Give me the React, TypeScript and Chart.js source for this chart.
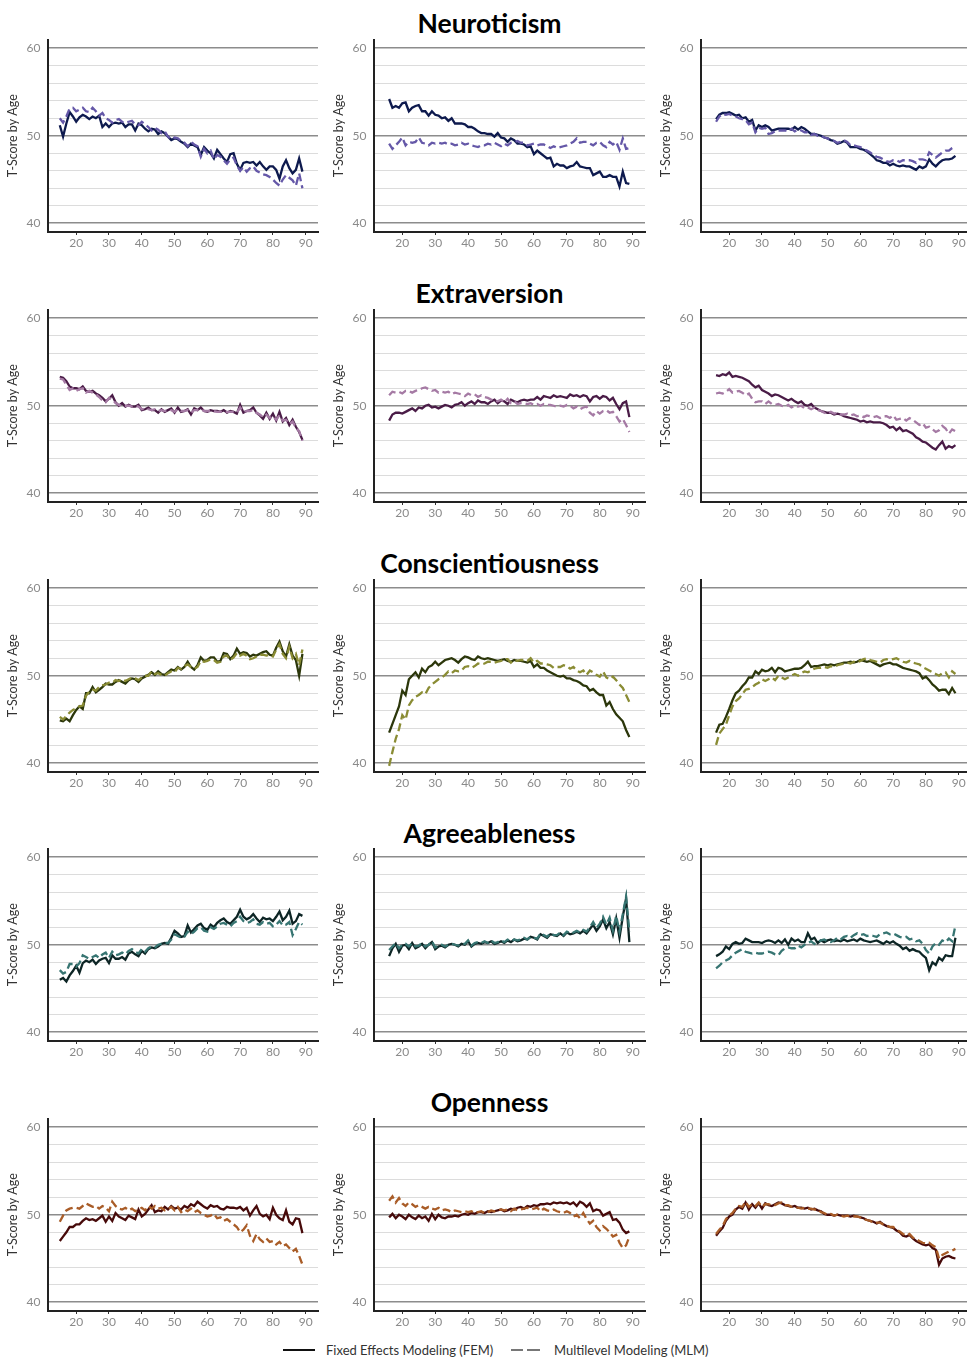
import React, { useEffect, useRef } from "react";
import { Chart, registerables } from "chart.js";

Chart.register(...registerables);
Chart.defaults.font.family = "Lato, 'DejaVu Sans', sans-serif";

// ---------- categories / ticks ----------
const agesFrom15 = [
  15, 16, 17, 18, 19,
  20, 21, 22, 23, 24, 25, 26, 27, 28, 29,
  30, 31, 32, 33, 34, 35, 36, 37, 38, 39,
  40, 41, 42, 43, 44, 45, 46, 47, 48, 49,
  50, 51, 52, 53, 54, 55, 56, 57, 58, 59,
  60, 61, 62, 63, 64, 65, 66, 67, 68, 69,
  70, 71, 72, 73, 74, 75, 76, 77, 78, 79,
  80, 81, 82, 83, 84, 85, 86, 87, 88, 89,
];
const agesFrom16 = [
  16, 17, 18, 19,
  20, 21, 22, 23, 24, 25, 26, 27, 28, 29,
  30, 31, 32, 33, 34, 35, 36, 37, 38, 39,
  40, 41, 42, 43, 44, 45, 46, 47, 48, 49,
  50, 51, 52, 53, 54, 55, 56, 57, 58, 59,
  60, 61, 62, 63, 64, 65, 66, 67, 68, 69,
  70, 71, 72, 73, 74, 75, 76, 77, 78, 79,
  80, 81, 82, 83, 84, 85, 86, 87, 88, 89,
];
const xTickValues = [20, 30, 40, 50, 60, 70, 80, 90];
const yGridValues = [40, 42, 44, 46, 48, 50, 52, 54, 56, 58, 60];
const yLabelValues = [40, 50, 60];
const traitTitles = ["Neuroticism", "Extraversion", "Conscientiousness", "Agreeableness", "Openness"];
const seriesLabels = ["Fixed Effects Modeling (FEM)", "Multilevel Modeling (MLM)"];
const yAxisTitle = "T-Score by Age";

// ---------- Neuroticism ----------
const neuFem1 = [
  51.2, 49.9, 51.4, 52.7, 52.2,
  51.6, 52.1, 52.4, 52.2, 51.9, 52.2, 52.0, 52.3, 51.0, 51.4,
  51.0, 51.4, 51.5, 51.4, 51.5, 51.0, 51.3, 51.3, 50.6, 51.4,
  51.2, 50.8, 50.5, 50.8, 50.7, 50.2, 50.5, 50.3, 49.9, 49.5,
  49.7, 49.6, 49.3, 49.1, 48.7, 49.1, 48.9, 48.7, 47.8, 48.7,
  48.3, 48.0, 47.4, 48.4, 47.9, 47.4, 47.0, 47.9, 48.0, 46.8,
  46.1, 46.9, 47.0, 46.9, 47.0, 46.6, 47.0, 46.5, 46.1, 46.5,
  46.5, 46.1, 45.1, 46.5, 47.2, 46.3, 45.7, 46.1, 47.4, 45.9,
];
const neuMlm1 = [
  52.0, 51.5, 52.2, 53.1, 53.2,
  52.8, 53.0, 53.2, 52.8, 52.7, 53.2, 52.8, 52.3, 52.6, 52.0,
  51.8, 51.5, 51.8, 51.9, 51.6, 51.5, 51.6, 51.7, 51.3, 51.2,
  51.6, 51.3, 51.0, 50.6, 50.9, 50.7, 50.3, 50.5, 49.9, 49.6,
  49.8, 49.7, 49.4, 49.2, 48.8, 49.3, 49.0, 48.8, 47.6, 48.5,
  48.0, 48.3, 47.3, 47.8, 47.6, 47.2, 46.8, 47.3, 47.5, 46.6,
  46.0, 46.4, 45.9, 46.3, 46.5, 46.0, 45.8, 45.6, 45.5, 45.3,
  45.0, 44.6, 44.3, 45.0, 45.5, 45.2, 44.9, 44.3, 45.7, 44.0,
];
const neuFem2 = [
  54.2, 53.2, 53.4, 53.2,
  53.7, 53.8, 52.8, 53.2, 53.4, 53.5, 52.8, 52.8, 52.3, 52.8,
  52.4, 52.3, 52.0, 52.1, 51.7, 52.0, 51.4, 51.4, 51.4, 51.3,
  51.0, 51.0, 50.8, 50.5, 50.3, 50.3, 50.2, 50.2, 49.9, 50.3,
  49.8, 49.7, 49.3, 49.7, 49.5, 49.1, 49.1, 49.0, 48.7, 48.8,
  47.9, 48.3, 48.0, 47.7, 47.4, 47.5, 46.5, 46.8, 46.6, 46.6,
  46.3, 46.5, 46.6, 47.0, 46.5, 46.4, 46.3, 46.3, 45.5, 45.7,
  45.9, 45.3, 45.3, 45.5, 45.3, 45.3, 44.2, 45.9, 44.6, 44.5,
];
const neuMlm2 = [
  49.1, 48.5, 48.9, 49.3,
  49.8, 48.9, 49.3, 49.2, 49.3, 49.8, 49.2, 49.1, 48.9, 49.2,
  49.1, 49.2, 49.1, 49.2, 49.0, 49.1, 48.9, 49.0, 49.2, 49.0,
  49.1, 48.9, 48.8, 48.7, 48.9, 48.9, 49.1, 49.0, 49.2, 49.0,
  48.8, 49.1, 48.9, 49.2, 49.3, 49.4, 49.2, 49.2, 48.9, 49.0,
  49.1, 48.9, 49.0, 49.0, 48.8, 48.6, 48.8, 48.6, 48.7, 48.8,
  48.9, 49.1, 49.3, 49.7, 49.2, 49.3, 49.3, 49.1, 48.9, 49.2,
  49.3, 48.9, 48.7, 49.3, 49.0, 49.3, 48.4, 49.7, 48.5, 48.6,
];
const neuFem3 = [
  51.9, 52.4, 52.6, 52.6,
  52.7, 52.5, 52.3, 52.4, 52.0, 52.1, 51.6, 51.8, 50.6, 51.2,
  51.0, 51.2, 51.0, 50.6, 50.7, 50.8, 50.8, 50.8, 50.8, 50.7,
  51.0, 50.7, 51.0, 50.8, 50.5, 50.2, 50.2, 50.1, 50.0, 49.8,
  49.7, 49.5, 49.4, 49.1, 49.2, 49.4, 49.2, 48.7, 48.7, 48.7,
  48.5, 48.4, 48.2, 47.9, 47.6, 47.2, 47.1, 46.9, 46.9, 46.6,
  46.8, 46.6, 46.5, 46.6, 46.5, 46.5, 46.3, 46.1, 46.5, 46.3,
  46.5, 47.3, 46.8, 46.5, 46.9, 47.2, 47.3, 47.3, 47.4, 47.7,
];
const neuMlm3 = [
  51.6, 52.2, 52.5, 52.4,
  52.5, 52.3, 52.2, 52.0, 51.9, 51.8, 51.3, 51.5, 50.4, 50.9,
  50.8, 50.9, 50.2, 50.3, 50.5, 50.6, 50.6, 50.6, 50.5, 50.8,
  50.5, 50.7, 50.6, 50.4, 50.4, 50.1, 50.2, 50.0, 50.0, 49.8,
  49.7, 49.5, 49.4, 49.2, 49.3, 49.5, 49.3, 48.9, 48.9, 48.8,
  48.7, 48.5, 48.3, 48.1, 47.8, 47.6, 47.5, 47.3, 47.1, 47.0,
  47.2, 47.2, 47.0, 47.2, 47.2, 47.2, 47.1, 46.9, 47.3, 47.3,
  47.2, 48.1, 47.8, 47.5, 47.8, 48.1, 48.3, 48.3, 48.6, 48.8,
];

// ---------- Extraversion ----------
const extFem1 = [
  53.3, 53.2, 52.8, 52.2, 52.0,
  52.0, 51.9, 52.2, 51.7, 51.6, 51.7, 51.4, 51.2, 50.9, 50.5,
  50.8, 51.2, 50.4, 50.0, 50.3, 49.9, 50.1, 49.9, 49.9, 50.1,
  49.5, 49.6, 49.8, 49.5, 49.5, 49.2, 49.6, 49.3, 49.5, 49.7,
  49.2, 49.8, 49.3, 49.4, 49.6, 49.0, 49.7, 49.5, 49.8, 49.4,
  49.3, 49.5, 49.4, 49.4, 49.3, 49.5, 49.2, 49.4, 49.3, 49.1,
  50.1, 49.2, 49.4, 49.5, 49.8, 49.2, 48.9, 48.5, 49.2, 48.5,
  49.1, 48.3, 49.3, 48.2, 48.6, 47.8, 48.4, 47.6, 47.0, 46.1,
];
const extMlm1 = [
  53.1, 53.0, 52.4, 51.8, 52.0,
  51.7, 51.9, 52.0, 51.5, 51.7, 51.5, 51.3, 51.0, 50.6, 50.4,
  50.9, 50.7, 50.3, 50.1, 50.0, 50.0, 50.0, 49.9, 50.0, 49.9,
  49.6, 49.7, 49.6, 49.5, 49.6, 49.4, 49.5, 49.4, 49.5, 49.5,
  49.3, 49.6, 49.4, 49.4, 49.5, 49.2, 49.5, 49.5, 49.6, 49.4,
  49.4, 49.4, 49.4, 49.3, 49.3, 49.4, 49.3, 49.3, 49.3, 49.2,
  49.8, 49.3, 49.4, 49.4, 49.5, 49.2, 49.0, 48.7, 49.0, 48.6,
  48.8, 48.4, 48.9, 48.3, 48.4, 47.9, 48.2, 47.5, 47.1, 46.0,
];
const extFem2 = [
  48.3, 49.0, 49.2, 49.2,
  49.1, 49.3, 49.5, 49.7, 49.4, 49.8, 49.7, 50.0, 50.1, 49.8,
  49.9, 49.7, 49.9, 50.1, 50.0, 49.8, 50.1, 50.2, 50.4, 50.0,
  50.3, 50.5, 50.2, 50.6, 50.4, 50.4, 50.2, 50.5, 50.7, 50.3,
  50.6, 50.5, 50.2, 50.7, 50.5, 50.4, 50.6, 50.7, 50.6, 50.7,
  50.7, 51.0, 50.7, 51.1, 51.0, 50.9, 51.2, 51.0, 51.1, 51.0,
  50.9, 51.3, 51.1, 51.2, 51.0, 51.2, 51.1, 50.5, 51.0, 51.1,
  50.8, 51.1, 51.0, 50.6, 50.9, 50.2, 49.6, 50.3, 50.5, 48.7,
];
const extMlm2 = [
  51.2, 51.6, 51.5, 51.6,
  51.4, 51.7, 51.7, 51.5, 51.7, 51.8, 52.0, 52.1, 51.9, 51.7,
  51.8, 51.5, 51.6, 51.5, 51.6, 51.3, 51.5, 51.4, 51.3, 51.1,
  51.4, 51.2, 51.3, 51.0, 51.2, 51.0, 50.9, 50.7, 50.6, 50.5,
  50.7, 50.4, 50.8, 50.3, 50.5, 50.2, 50.3, 50.3, 50.2, 50.3,
  50.1, 50.2, 50.0, 50.2, 50.1, 50.1, 50.0, 49.9, 50.0, 49.9,
  50.1, 50.0, 49.7, 49.9, 49.6, 49.8, 49.9, 49.2, 48.9, 49.4,
  49.1, 49.4, 49.5, 49.2, 49.3, 48.8, 48.2, 48.5, 47.8, 47.0,
];
const extFem3 = [
  53.5, 53.4, 53.6, 53.5,
  53.8, 53.3, 53.4, 53.3, 53.2, 53.0, 52.8, 52.4, 52.1, 52.3,
  51.8, 51.6, 51.4, 51.1, 51.3, 51.2, 51.0, 50.8, 50.6, 50.8,
  50.5, 50.3, 50.5, 50.1, 50.0, 50.2, 49.8, 49.6, 49.4, 49.3,
  49.2, 49.2, 49.0, 49.1, 49.0, 48.8, 48.7, 48.6, 48.5, 48.4,
  48.2, 48.3, 48.1, 48.2, 48.1, 48.1, 48.1, 48.0, 47.8, 47.5,
  47.6, 47.2, 47.5, 47.1, 47.2, 47.0, 46.8, 46.4, 46.2, 45.9,
  45.8, 45.5, 45.2, 45.0, 45.5, 45.9, 45.1, 45.4, 45.2, 45.5,
];
const extMlm3 = [
  51.4, 51.5, 51.4, 51.6,
  51.9, 51.5, 51.6, 51.7, 51.5, 51.2, 51.4, 50.8, 50.4, 50.5,
  50.5, 50.2, 50.5, 50.2, 50.1, 50.2, 50.0, 49.9, 50.1, 49.8,
  50.0, 49.9, 50.0, 49.7, 49.8, 49.6, 49.8, 49.5, 49.4, 49.2,
  49.1, 49.3, 49.1, 49.2, 49.0, 49.0, 49.1, 48.9, 49.0, 48.8,
  48.9, 48.7, 48.9, 48.8, 48.7, 48.8, 48.6, 48.8, 48.8, 48.6,
  48.9, 48.4, 48.5, 48.6, 48.3, 48.6, 48.4, 48.1, 47.8, 48.0,
  47.5, 47.6, 47.3, 47.0, 47.2, 47.7, 47.4, 46.8, 47.3, 47.1,
];

// ---------- Conscientiousness ----------
const conFem1 = [
  44.9, 44.8, 45.1, 44.8, 45.5,
  46.1, 46.5, 46.2, 48.0, 48.0, 48.7, 48.1, 48.4, 48.7, 49.1,
  49.0, 49.0, 49.3, 49.5, 49.3, 49.1, 49.5, 49.7, 49.6, 49.3,
  49.7, 49.9, 50.1, 50.4, 50.1, 50.5, 50.2, 50.1, 50.4, 50.7,
  50.6, 51.0, 50.7, 51.0, 51.6, 51.0, 50.7, 51.2, 52.1, 51.7,
  51.8, 52.1, 52.1, 51.6, 51.7, 52.6, 52.5, 51.9, 52.3, 53.1,
  52.5, 52.7, 52.6, 52.2, 52.4, 52.3, 52.5, 52.7, 52.8, 52.4,
  52.3, 53.2, 53.9, 52.8, 52.2, 53.6, 52.3, 51.8, 50.0, 52.5,
];
const conMlm1 = [
  45.3, 45.0, 45.4, 45.8, 46.1,
  46.3, 46.5, 46.6, 47.7, 48.2, 48.4, 48.3, 48.7, 48.9, 49.0,
  49.2, 49.2, 49.5, 49.4, 49.6, 49.4, 49.6, 49.8, 49.7, 49.5,
  49.8, 50.0, 50.0, 50.5, 50.2, 50.3, 50.1, 50.0, 50.3, 50.5,
  50.4, 50.9, 50.8, 51.1, 51.3, 51.0, 50.8, 51.0, 51.7, 51.6,
  51.7, 51.9, 51.8, 51.5, 51.6, 52.2, 52.3, 51.8, 52.1, 52.6,
  52.3, 52.5, 52.3, 51.9, 52.0, 52.2, 52.4, 52.4, 52.3, 52.4,
  52.2, 53.0, 53.6, 52.5, 52.0, 53.3, 52.0, 52.5, 51.2, 53.0,
];
const conFem2 = [
  43.5, 44.5, 45.5, 46.5,
  48.3, 47.8, 49.6, 50.0, 50.4, 49.8, 50.8, 50.4, 51.0, 51.2,
  51.6, 51.2, 51.5, 51.8, 51.9, 52.0, 51.8, 51.5, 51.9, 52.2,
  52.1, 51.9, 51.8, 52.2, 52.0, 51.9, 52.0, 51.9, 51.8, 51.7,
  51.8, 51.9, 51.7, 51.6, 51.8, 51.7, 51.7, 51.6, 51.5, 51.7,
  51.0, 51.3, 50.9, 50.9, 50.6, 50.4, 50.2, 50.0, 49.9, 50.0,
  49.7, 49.7, 49.5, 49.4, 49.2, 48.9, 48.8, 48.3, 48.5, 48.1,
  47.8, 47.8, 46.6, 47.0, 46.2, 45.6, 45.2, 44.8, 43.8, 43.0,
];
const conMlm2 = [
  39.7, 41.3, 42.8, 43.9,
  45.5, 45.0, 46.6, 47.2, 47.6, 47.8, 48.1, 47.9, 48.6, 49.0,
  49.3, 49.6, 49.8, 50.1, 50.5, 50.3, 50.6, 50.5, 50.6, 51.0,
  51.1, 50.9, 51.1, 51.4, 51.3, 51.4, 51.6, 51.6, 51.5, 51.6,
  51.7, 51.9, 51.9, 51.5, 51.8, 51.7, 51.8, 51.8, 51.7, 52.0,
  51.5, 51.7, 51.4, 51.4, 51.3, 51.2, 50.9, 51.0, 51.0, 51.2,
  51.1, 50.8, 51.0, 50.6, 50.4, 50.6, 50.1, 50.6, 50.4, 50.1,
  49.9, 50.5, 49.8, 49.6, 49.9, 49.5, 49.0, 48.6, 47.8, 47.0,
];
const conFem3 = [
  43.5, 44.4, 44.5, 45.3,
  46.2, 47.2, 48.0, 48.3, 48.8, 49.2, 49.8, 49.8, 50.5, 50.2,
  50.7, 50.5, 50.6, 50.9, 50.4, 50.9, 50.8, 50.5, 50.6, 50.7,
  50.8, 50.8, 50.9, 51.2, 51.6, 51.0, 51.1, 51.1, 51.2, 51.3,
  51.2, 51.3, 51.2, 51.3, 51.4, 51.5, 51.5, 51.6, 51.5, 51.6,
  51.8, 51.7, 51.6, 51.7, 51.5, 51.3, 51.1, 51.3, 51.4, 51.5,
  51.3, 51.3, 51.1, 50.9, 50.8, 50.7, 50.6, 50.5, 50.3, 49.7,
  49.9, 49.5, 49.0, 48.7, 48.3, 48.4, 48.4, 47.9, 48.6, 48.0,
];
const conMlm3 = [
  42.1, 43.4, 43.9, 44.4,
  45.5, 46.5, 47.1, 47.4, 47.9, 48.4, 48.5, 48.7, 49.0, 49.2,
  49.6, 49.4, 49.6, 49.8, 49.5, 50.0, 49.8, 49.6, 49.8, 50.0,
  50.2, 50.0, 50.3, 50.5, 50.4, 50.6, 50.8, 50.9, 50.9, 51.0,
  50.9, 51.1, 51.0, 51.2, 51.3, 51.4, 51.5, 51.4, 51.6, 51.5,
  51.7, 51.9, 52.0, 51.8, 51.7, 51.6, 51.5, 51.8, 51.9, 51.8,
  51.9, 52.0, 51.8, 51.6, 51.5, 51.7, 51.5, 51.4, 51.3, 51.0,
  50.8, 50.6, 50.4, 50.2, 50.0, 50.3, 50.4, 49.8, 50.5, 50.2,
];

// ---------- Agreeableness ----------
const agrFem1 = [
  46.0, 46.2, 45.8, 46.5, 47.0,
  47.6, 46.8, 47.9, 48.2, 48.0, 48.3, 47.8, 48.2, 48.4, 48.5,
  47.9, 48.8, 48.4, 48.4, 48.6, 48.3, 49.0, 49.2, 48.9, 48.7,
  49.3, 49.0, 49.5, 49.7, 49.6, 49.8, 50.1, 50.2, 50.1, 50.8,
  51.6, 51.3, 50.9, 51.0, 52.2, 51.4, 51.8, 52.2, 52.4, 51.9,
  51.7, 52.3, 52.0, 52.5, 52.8, 53.0, 52.6, 52.4, 52.8, 53.2,
  54.0, 53.2, 52.9, 53.1, 53.5, 53.0, 52.6, 53.1, 52.9, 53.0,
  52.7, 53.2, 53.8, 52.8, 53.2, 53.9, 52.4, 52.7, 53.5, 53.3,
];
const agrMlm1 = [
  47.1, 46.7, 46.9, 47.8, 47.8,
  47.5, 47.9, 48.8, 48.6, 48.4, 48.6, 48.8, 48.5, 48.9, 49.1,
  48.5, 49.2, 48.8, 48.9, 49.1, 48.9, 49.3, 49.5, 49.2, 49.0,
  49.5, 49.2, 49.6, 49.8, 49.7, 50.0, 50.1, 50.2, 50.2, 50.6,
  51.2, 51.0, 50.8, 50.9, 51.5, 51.2, 51.5, 51.9, 52.0, 51.6,
  51.5, 52.0, 51.8, 52.1, 52.4, 52.5, 52.3, 52.1, 52.5, 52.7,
  53.2, 52.7, 52.5, 52.6, 52.9, 52.4, 52.3, 52.6, 52.4, 52.5,
  52.1, 52.3, 52.7, 52.2, 52.3, 52.6, 51.1, 51.8, 52.6, 52.3,
];
const agrFem2 = [
  48.7, 49.6, 50.1, 49.2,
  49.9, 50.0, 49.5, 50.2, 49.6, 49.8, 50.1, 49.6, 50.0, 50.3,
  49.5, 49.8, 49.9, 49.7, 50.0, 50.1, 50.0, 49.8, 50.1, 50.0,
  50.4, 49.8, 50.1, 50.2, 50.1, 50.3, 50.2, 50.4, 50.1, 50.2,
  50.4, 50.2, 50.5, 50.3, 50.6, 50.4, 50.5, 50.7, 50.6, 50.9,
  50.8, 50.6, 51.2, 51.0, 50.8, 51.2, 51.1, 51.0, 51.3, 51.0,
  51.4, 51.2, 51.3, 51.5, 51.3, 51.6, 51.3, 51.8, 52.3, 51.6,
  52.1, 52.9, 51.9, 52.6, 51.2, 53.0, 50.8, 53.2, 55.3, 50.3,
];
const agrMlm2 = [
  49.4, 49.8, 50.2, 49.6,
  50.0, 50.1, 49.8, 50.2, 49.8, 49.9, 50.2, 49.8, 50.0, 50.4,
  49.7, 49.9, 50.0, 49.8, 50.0, 50.1, 50.0, 49.9, 50.1, 50.1,
  50.5, 49.9, 50.2, 50.3, 50.2, 50.4, 50.2, 50.5, 50.2, 50.3,
  50.5, 50.3, 50.6, 50.4, 50.6, 50.5, 50.6, 50.8, 50.6, 50.9,
  50.8, 50.7, 51.3, 51.1, 50.9, 51.3, 51.1, 51.1, 51.4, 51.1,
  51.5, 51.3, 51.4, 51.6, 51.4, 51.7, 51.5, 52.0, 52.6, 51.9,
  52.4, 53.2, 52.3, 53.1, 51.6, 53.3, 51.5, 53.5, 55.5, 51.5,
];
const agrFem3 = [
  48.7, 48.9, 49.2, 49.8,
  49.5, 50.1, 50.3, 50.1, 50.2, 50.7, 50.5, 50.3, 50.3, 50.3,
  50.2, 50.4, 50.5, 50.4, 50.2, 50.5, 50.2, 50.6, 50.0, 50.7,
  50.4, 50.6, 50.3, 50.3, 51.3, 50.6, 50.8, 50.2, 50.5, 50.3,
  50.5, 50.6, 50.4, 50.5, 50.4, 50.6, 50.4, 50.5, 50.6, 50.4,
  50.7, 50.5, 50.4, 50.3, 50.4, 50.5, 50.3, 50.1, 50.4, 50.2,
  50.4, 50.1, 49.9, 49.5, 49.7, 49.3, 49.5, 49.3, 49.2, 48.8,
  48.5, 47.1, 48.0, 47.7, 48.5, 48.2, 48.8, 48.7, 48.7, 50.8,
];
const agrMlm3 = [
  47.3, 47.6, 48.0, 48.2,
  48.4, 48.8, 49.1, 49.3, 49.5, 49.2, 49.1, 49.0, 49.1, 49.0,
  49.0, 49.1, 49.2, 49.1, 48.9, 48.8, 49.3, 49.6, 49.7, 49.6,
  49.6, 49.9, 49.7, 50.0, 50.2, 50.4, 50.1, 50.3, 50.5, 50.6,
  50.4, 50.3, 50.5, 50.8, 50.6, 50.9, 51.0, 50.8, 51.1, 51.3,
  51.1, 51.2, 51.0, 51.1, 51.0, 50.9, 51.2, 51.3, 51.4, 51.2,
  51.3, 51.1, 50.9, 50.8, 50.9, 50.6, 50.7, 50.4, 50.5, 50.1,
  49.4, 49.0, 49.8, 50.2, 50.0, 50.5, 50.3, 50.7, 50.4, 52.2,
];

// ---------- Openness ----------
const opnFem1 = [
  47.0, 47.5, 48.0, 48.6, 48.6,
  48.9, 48.9, 49.3, 49.6, 49.4, 49.5, 49.3, 49.6, 49.9, 49.2,
  49.8, 49.3, 50.2, 49.8, 49.6, 49.4, 49.9, 49.7, 49.5, 50.6,
  49.8, 50.1, 50.6, 51.1, 50.3, 50.5, 50.4, 50.9, 50.6, 51.0,
  50.7, 50.8, 50.6, 51.0, 50.8, 51.2, 51.0, 51.5, 51.2, 50.9,
  50.7, 51.1, 50.9, 51.0, 50.7, 50.6, 50.9, 50.8, 50.8, 50.7,
  50.9, 50.5, 50.8, 49.9, 50.5, 51.0, 50.1, 49.8, 50.0, 49.5,
  50.8, 50.0, 49.6, 49.4, 50.5, 49.2, 48.9, 49.6, 49.5, 47.9,
];
const opnMlm1 = [
  49.2, 49.9, 50.5, 50.7, 50.8,
  50.8, 50.7, 51.0, 51.3, 51.1, 50.9, 51.0, 50.7, 51.0, 50.8,
  50.4, 51.5, 51.0, 50.7, 50.6, 50.8, 50.5, 50.7, 50.4, 50.6,
  50.8, 50.5, 51.0, 50.7, 51.0, 50.7, 50.8, 50.5, 50.7, 50.9,
  50.5, 50.9, 50.3, 50.6, 50.4, 50.7, 50.3, 50.5, 50.2, 50.0,
  49.8, 49.9, 50.1, 49.6, 49.7, 49.3, 49.5, 49.2, 48.9, 48.6,
  48.0, 48.3, 48.8, 47.6, 47.0, 47.8, 47.2, 46.9, 47.3, 46.9,
  47.0, 46.6, 46.9, 46.4, 46.6, 46.2, 45.8, 46.1, 45.3, 44.3,
];
const opnFem2 = [
  49.7, 50.1, 49.6, 50.0,
  49.8, 49.5, 50.0, 49.7, 49.5, 49.9, 49.6, 49.8, 49.3, 50.1,
  49.5, 50.0, 49.7, 49.6, 49.8, 49.8, 49.9, 49.8, 50.0, 50.1,
  50.0, 50.2, 50.1, 50.3, 50.3, 50.2, 50.4, 50.3, 50.4, 50.5,
  50.6, 50.4, 50.5, 50.7, 50.6, 50.8, 50.9, 50.7, 51.0, 50.9,
  51.1, 51.0, 51.2, 51.2, 51.3, 51.2, 51.4, 51.3, 51.4, 51.3,
  51.4, 51.2, 51.4, 51.0, 51.5, 51.3, 50.9, 51.3, 50.4, 50.6,
  50.5, 49.9, 50.1, 50.3, 49.4, 49.5, 49.1, 48.3, 47.9, 48.1,
];
const opnMlm2 = [
  51.6, 52.1, 51.4, 51.9,
  51.3, 51.0, 51.4, 51.2, 50.9, 51.1, 50.9, 50.7, 50.9, 50.7,
  50.6, 50.8, 50.5, 50.6, 50.5, 50.3, 50.5, 50.4, 50.3, 50.4,
  50.3, 50.4, 50.2, 50.3, 50.4, 50.2, 50.3, 50.5, 50.4, 50.5,
  50.6, 50.5, 50.6, 50.4, 50.7, 50.5, 50.6, 50.7, 50.8, 50.6,
  50.7, 50.8, 50.4, 50.7, 50.5, 50.4, 50.6, 50.4, 50.3, 50.2,
  50.4, 50.2, 49.8, 50.0, 49.6, 50.2, 49.5, 49.0, 49.3, 48.6,
  48.2, 48.7, 48.4, 48.0, 47.5, 47.7, 46.8, 46.2, 46.5, 47.5,
];
const opnFem3 = [
  47.6, 48.1, 48.5, 49.3,
  49.8, 50.0, 50.6, 50.9, 50.7, 51.4, 50.6, 51.2, 50.8, 51.3,
  50.7, 51.3, 51.1, 51.0, 51.2, 51.4, 51.3, 51.1, 51.0, 50.9,
  51.0, 50.8, 50.8, 50.7, 50.8, 50.6, 50.7, 50.5, 50.4, 50.1,
  50.0, 50.0, 49.9, 50.0, 49.9, 49.9, 49.9, 49.8, 49.9, 49.8,
  49.7, 49.6, 49.4, 49.3, 49.2, 49.0, 49.2, 48.9, 48.7, 48.6,
  48.5, 48.2, 48.0, 47.6, 47.5, 47.7, 47.3, 47.0, 46.8, 46.6,
  46.5, 46.6, 46.2, 46.0, 44.3, 45.0, 45.2, 45.3, 45.1, 45.0,
];
const opnMlm3 = [
  47.8, 48.3, 48.7, 49.5,
  49.9, 50.2, 50.7, 51.0, 50.9, 51.5, 50.9, 51.2, 51.0, 51.4,
  50.9, 51.2, 51.2, 51.1, 51.1, 51.3, 51.4, 51.1, 51.1, 50.9,
  50.9, 50.8, 50.7, 50.8, 50.7, 50.7, 50.6, 50.6, 50.3, 50.2,
  50.0, 50.1, 49.9, 50.0, 49.9, 49.8, 49.9, 49.8, 49.8, 49.8,
  49.7, 49.5, 49.4, 49.3, 49.1, 49.1, 49.1, 48.9, 48.8, 48.6,
  48.6, 48.3, 48.1, 47.8, 47.6, 47.8, 47.4, 47.2, 47.0, 46.8,
  46.7, 46.8, 46.5, 46.3, 45.0, 45.4, 45.6, 45.8, 45.9, 46.1,
];

// ---------- colours ----------
const femColors = ["#0e1a4e", "#4a1c47", "#2c370b", "#0d2525", "#470a0a"];
const mlmColors = ["#6558a8", "#a57aa4", "#8a8c34", "#377572", "#a95c27"];

// ---------- panel table (built from the arrays) ----------
const panelRows = [
  [[agesFrom15, neuFem1, neuMlm1], [agesFrom16, neuFem2, neuMlm2], [agesFrom16, neuFem3, neuMlm3]],
  [[agesFrom15, extFem1, extMlm1], [agesFrom16, extFem2, extMlm2], [agesFrom16, extFem3, extMlm3]],
  [[agesFrom15, conFem1, conMlm1], [agesFrom16, conFem2, conMlm2], [agesFrom16, conFem3, conMlm3]],
  [[agesFrom15, agrFem1, agrMlm1], [agesFrom16, agrFem2, agrMlm2], [agesFrom16, agrFem3, agrMlm3]],
  [[agesFrom15, opnFem1, opnMlm1], [agesFrom16, opnFem2, opnMlm2], [agesFrom16, opnFem3, opnMlm3]],
];

const ROW_STEP = 269.75;
const COL_LEFT = [0, 326, 652.5];
const COL_WIDTH = [320, 321, 320];
const CANVAS_TOP0 = 36;
const CANVAS_H = 216;

function Panel(props: {
  ages: number[]; fem: number[]; mlm: number[];
  femColor: string; mlmColor: string;
  left: number; top: number; width: number; height: number;
}) {
  const ref = useRef<HTMLCanvasElement | null>(null);
  const { ages, fem, mlm, femColor, mlmColor, left, top, width, height } = props;
  useEffect(() => {
    if (!ref.current) return;
    const chart = new Chart(ref.current, {
      type: "line",
      data: {
        datasets: [
          {
            label: seriesLabels[1],
            data: ages.map((a, i) => ({ x: a, y: mlm[i] })),
            borderColor: mlmColor,
            borderWidth: 2.3,
            borderDash: [8, 4],
            pointRadius: 0,
            tension: 0,
            fill: false,
          },
          {
            label: seriesLabels[0],
            data: ages.map((a, i) => ({ x: a, y: fem[i] })),
            borderColor: femColor,
            borderWidth: 2.3,
            pointRadius: 0,
            tension: 0,
            fill: false,
          },
        ],
      },
      options: {
        responsive: false,
        animation: false,
        layout: { padding: { top: 3.5, right: 2, left: 0, bottom: 0 } },
        plugins: { legend: { display: false }, tooltip: { enabled: false } },
        scales: {
          x: {
            type: "linear",
            min: 11.25,
            max: 93.75,
            afterBuildTicks: (s: any) => {
              s.ticks = xTickValues.map((v) => ({ value: v }));
            },
            afterFit: (s: any) => {
              s.height = 20;
              s.paddingLeft = 0;
              s.paddingRight = 0;
            },
            ticks: {
              color: "#8a8a8a",
              font: { size: 12 },
              padding: 1,
              maxRotation: 0,
              autoSkip: false,
              callback: (v: any) => String(v),
            },
            grid: {
              drawOnChartArea: false,
              drawTicks: true,
              tickLength: 3,
              color: "#333333",
              lineWidth: 1,
            },
            border: { display: true, color: "#222222", width: 2 },
          },
          y: {
            type: "linear",
            min: 39,
            max: 61,
            afterBuildTicks: (s: any) => {
              s.ticks = yGridValues.map((v) => ({ value: v }));
            },
            afterFit: (s: any) => {
              s.width = 47.5;
              s.paddingTop = 0;
              s.paddingBottom = 0;
            },
            title: {
              display: true,
              text: yAxisTitle,
              color: "#333333",
              font: { size: 12.5 },
              padding: { top: 5, bottom: 0 },
            },
            ticks: {
              color: "#8a8a8a",
              font: { size: 12 },
              padding: 7,
              callback: (v: any) => (yLabelValues.includes(v) ? String(v) : ""),
            },
            grid: {
              drawTicks: false,
              color: (ctx: any) =>
                ctx.tick && yLabelValues.includes(ctx.tick.value) ? "#8c8c8c" : "#dcdcdc",
              lineWidth: (ctx: any) =>
                ctx.tick && yLabelValues.includes(ctx.tick.value) ? 1.6 : 1,
            },
            border: { display: true, color: "#222222", width: 2 },
          },
        },
      },
    } as any);
    return () => chart.destroy();
  }, []);
  return (
    <canvas
      ref={ref}
      width={width}
      height={height}
      style={{ position: "absolute", left, top, width, height }}
    />
  );
}

export default function App() {
  return (
    <div
      style={{
        position: "absolute",
        left: 0,
        top: 0,
        width: 967,
        height: 1360,
        overflow: "hidden",
        background: "#ffffff",
        fontFamily: "Lato, 'DejaVu Sans', sans-serif",
      }}
    >
      {traitTitles.map((t, r) => (
        <div
          key={"t" + r}
          style={{
            position: "absolute",
            left: 289.5,
            width: 400,
            top: 10.3 + r * ROW_STEP,
            textAlign: "center",
            fontSize: 26.5,
            lineHeight: "26.5px",
            fontWeight: 700,
            color: "#000",
          }}
        >
          {t}
        </div>
      ))}
      {panelRows.map((row, r) =>
        row.map((p, c) => (
          <Panel
            key={r + "-" + c}
            ages={p[0]}
            fem={p[1]}
            mlm={p[2]}
            femColor={femColors[r]}
            mlmColor={mlmColors[r]}
            left={COL_LEFT[c]}
            top={CANVAS_TOP0 + r * ROW_STEP}
            width={COL_WIDTH[c]}
            height={CANVAS_H}
          />
        ))
      )}
      {/* legend */}
      <div style={{ position: "absolute", left: 283, top: 1349, width: 32, borderTop: "2px solid #111" }} />
      <div style={{ position: "absolute", left: 326, top: 1342.5, fontSize: 13, lineHeight: "15px", color: "#333", whiteSpace: "nowrap" }}>
        {seriesLabels[0]}
      </div>
      <div style={{ position: "absolute", left: 511, top: 1349, width: 12, borderTop: "2px solid #777" }} />
      <div style={{ position: "absolute", left: 527, top: 1349, width: 13, borderTop: "2px solid #777" }} />
      <div style={{ position: "absolute", left: 554, top: 1342.5, fontSize: 13, lineHeight: "15px", color: "#333", whiteSpace: "nowrap" }}>
        {seriesLabels[1]}
      </div>
    </div>
  );
}
